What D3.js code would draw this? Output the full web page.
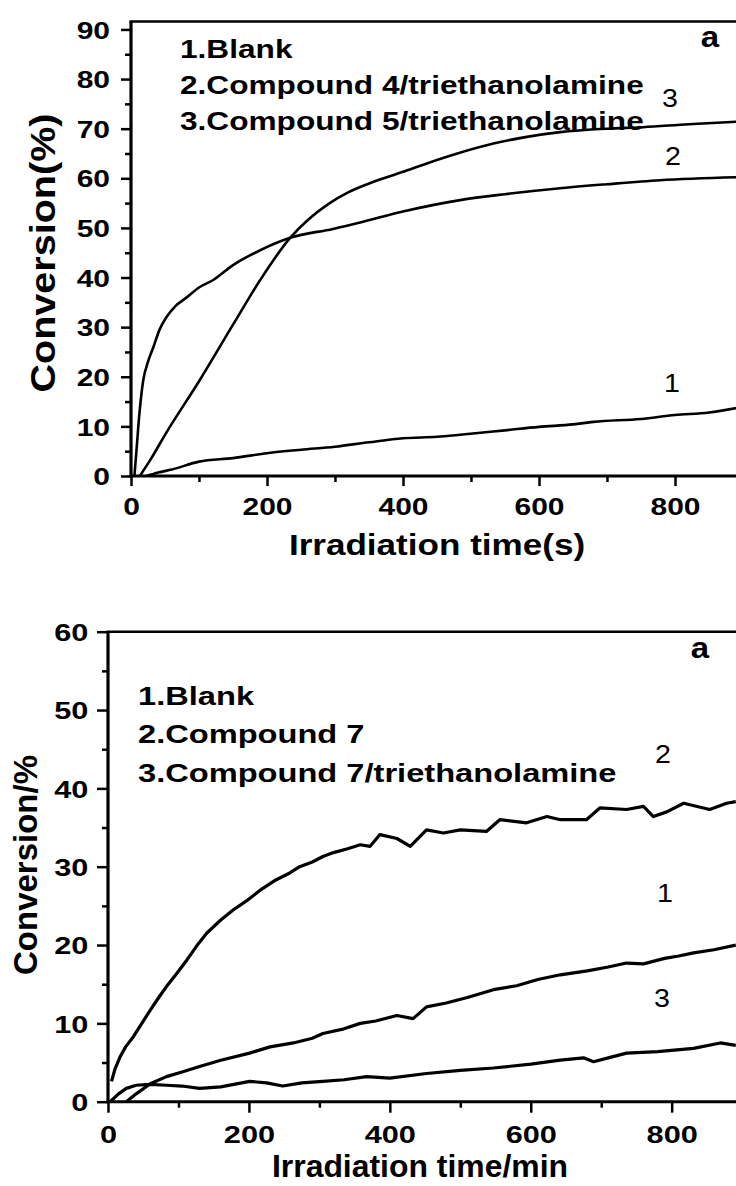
<!DOCTYPE html>
<html>
<head>
<meta charset="utf-8">
<script src="https://cdn.jsdelivr.net/npm/d3@7"></script>
<style>
  body { margin: 0; background: #fff; }
  text { font-family: "Liberation Sans", Arial, sans-serif; fill: #000; }
</style>
</head>
<body>
<script>
// ---------- DATA ----------
// Panel A: time (s) vs conversion (%)
const aYTicks = [0, 10, 20, 30, 40, 50, 60, 70, 80, 90];
const aXTicks = [0, 200, 400, 600, 800];
const aLegend = ["1.Blank", "2.Compound 4/triethanolamine", "3.Compound 5/triethanolamine"];
const aXTitle = "Irradiation time(s)";
const aYTitle = "Conversion(%)";

const aBlankT = [23, 40, 60, 100, 150, 200, 250, 300, 350, 400, 450, 484, 550, 600, 650, 680, 750, 800, 850, 890];
const aBlankV = [0, 0.7, 1.3, 2.9, 3.6, 4.6, 5.3, 5.9, 6.8, 7.6, 7.9, 8.3, 9.2, 9.9, 10.4, 10.9, 11.5, 12.3, 12.8, 13.7];

const aComp4T = [5, 8, 12, 18, 25, 33, 42, 52, 65, 82, 100, 121, 150, 190, 234, 297, 340, 400, 484, 550, 631, 700, 778, 890];
const aComp4V = [0, 5, 12, 19.3, 23, 26, 29.5, 32, 34.2, 36, 38, 39.5, 42.5, 45.5, 48, 49.8, 51.2, 53.3, 55.6, 56.8, 58, 58.8, 59.6, 60.2];

const aComp5T = [13, 30, 50, 101, 150, 190, 234, 260, 290, 320, 351, 400, 435, 480, 533, 580, 631, 700, 753, 820, 890];
const aComp5V = [0, 3.6, 8.3, 19.3, 30.5, 39.5, 48, 51.6, 54.8, 57.2, 59.0, 61.3, 63, 65, 67, 68.3, 69.3, 70, 70.3, 70.9, 71.4];

// Panel B: time (min) vs conversion (%)
const bYTicks = [0, 10, 20, 30, 40, 50, 60];
const bXTicks = [0, 200, 400, 600, 800];
const bLegend = ["1.Blank", "2.Compound 7", "3.Compound 7/triethanolamine"];
const bXTitle = "Irradiation time/min";
const bYTitle = "Conversion/%";

const bComp7T = [5, 10, 17, 25, 36, 48, 60, 72, 83, 97, 112, 126, 140, 160, 178, 196, 216, 236, 258, 272, 290, 305, 320, 340,
                 358, 372, 386, 410, 429, 452, 476, 500, 537, 556, 594, 623, 642, 679, 698, 736, 760, 774, 793, 817, 854, 878, 891];
const bComp7V = [2.6, 4.2, 5.7, 7.0, 8.3, 10.0, 11.7, 13.3, 14.7, 16.3, 18.1, 19.9, 21.5, 23.2, 24.5, 25.6, 27.0, 28.2, 29.2, 30.0, 30.6, 31.3, 31.8, 32.3,
                 32.8, 32.6, 34.1, 33.6, 32.6, 34.7, 34.3, 34.7, 34.5, 36.0, 35.6, 36.4, 36.0, 36.0, 37.5, 37.3, 37.7, 36.4, 37.0, 38.1, 37.3, 38.1, 38.3];

const bBlankT = [26, 40, 60, 83, 105, 130, 160, 201, 230, 263, 290, 305, 335, 358, 380, 410, 433, 452, 480, 510, 547, 580, 610, 642, 680, 710, 736, 760, 790, 810, 831, 860, 891];
const bBlankV = [0, 1.0, 2.3, 3.2, 3.8, 4.5, 5.3, 6.2, 7.0, 7.5, 8.1, 8.7, 9.3, 10.0, 10.3, 11.0, 10.6, 12.1, 12.6, 13.3, 14.3, 14.8, 15.6, 16.2, 16.7, 17.2, 17.7, 17.6, 18.3, 18.6, 19.0, 19.4, 20.0];

const bComp7TeaT = [3, 15, 26, 40, 60, 83, 105, 130, 160, 201, 225, 248, 275, 305, 335, 367, 400, 452, 500, 547, 600, 642, 675, 689, 710, 736, 780, 831, 869, 891];
const bComp7TeaV = [0, 1.0, 1.7, 2.1, 2.2, 2.1, 2.0, 1.7, 1.9, 2.6, 2.4, 2.0, 2.4, 2.6, 2.8, 3.2, 3.0, 3.6, 4.0, 4.3, 4.8, 5.3, 5.6, 5.1, 5.6, 6.2, 6.4, 6.8, 7.5, 7.2];

// ---------- DRAWING ----------
const W = 736, H = 1186;
const svg = d3.select("body").append("svg").attr("width", W).attr("height", H);
svg.append("rect").attr("width", W).attr("height", H).attr("fill", "#fff");

function label(g, txt, x, y, o) {
  const t = g.append("text")
    .attr("transform", `translate(${x},${y})` + (o.rotate ? ` rotate(${o.rotate})` : "") + ` scale(${o.sx || 1},1)`)
    .attr("text-anchor", o.anchor || "start")
    .style("font-size", o.size + "px")
    .style("font-weight", o.weight || "bold")
    .text(txt);
  return t;
}

function zip(ts, vs) { return ts.map((t, i) => [t, vs[i]]); }

function panel(cfg) {
  const g = svg.append("g");
  const x = d3.scaleLinear().domain(cfg.xDomain).range(cfg.xRange);
  const y = d3.scaleLinear().domain(cfg.yDomain).range(cfg.yRange);
  const x0 = cfg.xRange[0], yB = cfg.yRange[0], yT = cfg.yRange[1];

  const clipId = "clip" + cfg.id;
  g.append("clipPath").attr("id", clipId).append("rect")
    .attr("x", x0).attr("y", yT).attr("width", W - x0).attr("height", yB - yT);

  // curves
  const line = d3.line().x(d => x(d[0])).y(d => y(d[1])).curve(cfg.curve);
  const cg = g.append("g").attr("clip-path", `url(#${clipId})`);
  cfg.series.forEach(s => {
    cg.append("path").datum(zip(s.t, s.v)).attr("d", line)
      .attr("fill", "none").attr("stroke", "#000").attr("stroke-width", cfg.lineW)
      .attr("stroke-linejoin", "round");
  });

  // y axis ticks
  const yMajor = d3.axisLeft(y).tickValues(cfg.yTicks).tickSize(cfg.majorLen).tickFormat(d3.format("d"));
  const yMinor = d3.axisLeft(y).tickValues(cfg.yTicks.slice(0, -1).map(v => v + cfg.yStep / 2).filter(v => v <= cfg.yDomain[1]))
    .tickSize(cfg.minorLen).tickFormat("");
  const gy = g.append("g").attr("transform", `translate(${x0},0)`).call(yMajor);
  const gy2 = g.append("g").attr("transform", `translate(${x0},0)`).call(yMinor);
  [gy, gy2].forEach(a => { a.select(".domain").remove(); a.selectAll("line").attr("stroke", "#000").attr("stroke-width", 2.5); });
  gy.selectAll("text").attr("x", -cfg.yLabelOff / cfg.tickSx).attr("dy", "0.36em")
    .attr("transform", `scale(${cfg.tickSx},1)`).style("font-size", cfg.tickSize + "px").style("font-weight", "bold")
    .attr("fill", "#000").style("font-family", '"Liberation Sans", Arial, sans-serif');

  // x axis ticks
  const xMajor = d3.axisBottom(x).tickValues(cfg.xTicks).tickSize(cfg.majorLen).tickFormat(d3.format("d"));
  const xMinor = d3.axisBottom(x).tickValues(cfg.xTicks.slice(0, -1).map(v => v + 100)).tickSize(cfg.minorLen).tickFormat("");
  const gx = g.append("g").attr("transform", `translate(0,${yB})`).call(xMajor);
  const gx2 = g.append("g").attr("transform", `translate(0,${yB})`).call(xMinor);
  [gx, gx2].forEach(a => { a.select(".domain").remove(); a.selectAll("line").attr("stroke", "#000").attr("stroke-width", 2.5); });
  gx.selectAll("text").attr("y", cfg.xLabelOff).attr("dy", 0)
    .attr("transform", `scale(${cfg.tickSx},1)`).style("font-size", cfg.tickSize + "px").style("font-weight", "bold")
    .attr("fill", "#000").style("font-family", '"Liberation Sans", Arial, sans-serif');

  // frame lines
  g.append("line").attr("x1", x0).attr("x2", x0).attr("y1", yT).attr("y2", yB + 1.5).attr("stroke", "#000").attr("stroke-width", 3.2);
  g.append("line").attr("x1", x0 - 1.5).attr("x2", W).attr("y1", yB).attr("y2", yB).attr("stroke", "#000").attr("stroke-width", 3);
  g.append("line").attr("x1", x0 - 1.5).attr("x2", W).attr("y1", yT).attr("y2", yT).attr("stroke", "#000").attr("stroke-width", 2.6);

  // titles
  label(g, cfg.xTitle, cfg.xTitlePos[0], cfg.xTitlePos[1], { size: cfg.xTitleSize, sx: cfg.xTitleSx, anchor: "middle" });
  label(g, cfg.yTitle, cfg.yTitlePos[0], cfg.yTitlePos[1], { size: cfg.yTitleSize, sx: cfg.yTitleSx, anchor: "middle", rotate: -90 });

  // legend
  cfg.legend.forEach((l, i) => label(g, l, cfg.legendX, cfg.legendY + i * cfg.legendDy, { size: cfg.legendSize, sx: cfg.legendSx }));

  // panel letter
  label(g, "a", cfg.letterPos[0], cfg.letterPos[1], { size: 30, sx: 1.1, anchor: "middle" });

  // curve numbers
  cfg.numbers.forEach(n => label(g, n[0], n[1], n[2], { size: 26, sx: 1.1, anchor: "middle", weight: "normal" }));
}

panel({
  id: "A",
  xDomain: [0, 900], xRange: [131, 131 + 900 * 0.68],
  yDomain: [0, 91.6], yRange: [476, 21.5],
  yTicks: aYTicks, yStep: 10, xTicks: aXTicks,
  majorLen: 10, minorLen: 6, tickSize: 24, tickSx: 1.25, yLabelOff: 21, xLabelOff: 39,
  curve: d3.curveMonotoneX, lineW: 2.6,
  series: [
    { t: aBlankT, v: aBlankV },
    { t: aComp4T, v: aComp4V },
    { t: aComp5T, v: aComp5V }
  ],
  xTitle: aXTitle, xTitlePos: [437, 555], xTitleSize: 30, xTitleSx: 1.17,
  yTitle: aYTitle, yTitlePos: [55, 253], yTitleSize: 35, yTitleSx: 1.13,
  legend: aLegend, legendX: 180, legendY: 58, legendDy: 36, legendSize: 25.5, legendSx: 1.24,
  letterPos: [710, 47],
  numbers: [["3", 670, 107], ["2", 673, 165], ["1", 672, 392]]
});

panel({
  id: "B",
  xDomain: [0, 900], xRange: [108, 108 + 900 * 0.7046],
  yDomain: [0, 60], yRange: [1101.7, 631.7],
  yTicks: bYTicks, yStep: 10, xTicks: bXTicks,
  majorLen: 11, minorLen: 6, tickSize: 24, tickSx: 1.28, yLabelOff: 19.7, xLabelOff: 41,
  curve: d3.curveLinear, lineW: 3.2,
  series: [
    { t: bComp7T, v: bComp7V },
    { t: bBlankT, v: bBlankV },
    { t: bComp7TeaT, v: bComp7TeaV }
  ],
  xTitle: bXTitle, xTitlePos: [420, 1177], xTitleSize: 31, xTitleSx: 1.03,
  yTitle: bYTitle, yTitlePos: [37, 865], yTitleSize: 33, yTitleSx: 1.0,
  legend: bLegend, legendX: 138, legendY: 705, legendDy: 38.3, legendSize: 25.5, legendSx: 1.28,
  letterPos: [700, 658],
  numbers: [["2", 663, 763], ["1", 665, 902], ["3", 662, 1007]]
});
</script>
</body>
</html>
